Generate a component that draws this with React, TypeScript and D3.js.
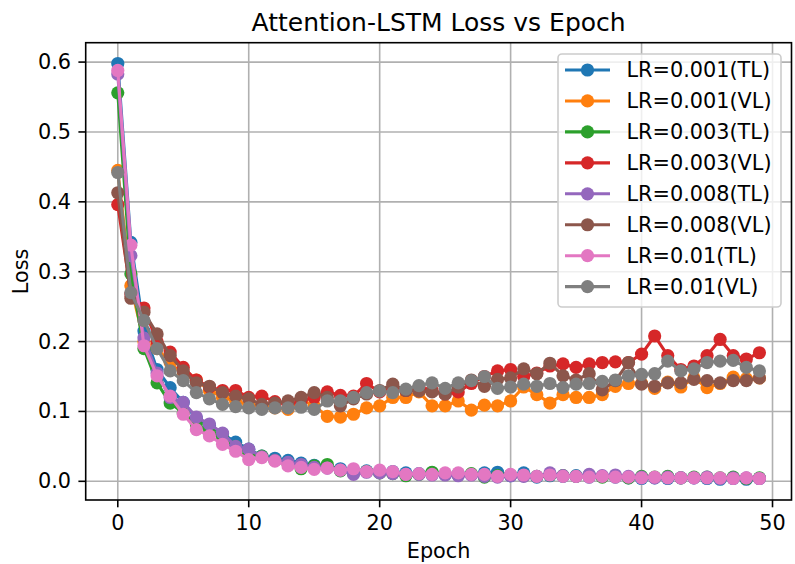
import React from "react";
import * as d3 from "d3";

const epochs = d3.range(0, 50);

const blueTL = [0.598,0.342,0.215,0.160,0.134,0.113,0.090,0.080,0.068,0.056,0.046,0.036,0.033,0.030,0.026,0.023,0.020,0.018,0.016,0.015,0.014,0.014,0.012,0.011,0.012,0.010,0.011,0.010,0.012,0.013,0.008,0.012,0.006,0.008,0.007,0.008,0.006,0.007,0.006,0.005,0.004,0.005,0.004,0.005,0.005,0.004,0.003,0.004,0.003,0.004];
const orangeVL = [0.445,0.280,0.200,0.190,0.170,0.152,0.145,0.130,0.120,0.115,0.110,0.108,0.105,0.103,0.117,0.108,0.093,0.092,0.096,0.105,0.108,0.120,0.120,0.128,0.108,0.108,0.115,0.102,0.109,0.108,0.115,0.135,0.124,0.112,0.124,0.120,0.120,0.124,0.136,0.140,0.140,0.133,0.142,0.135,0.148,0.134,0.140,0.149,0.147,0.148];
const greenTL = [0.556,0.297,0.190,0.141,0.112,0.098,0.082,0.070,0.062,0.050,0.040,0.036,0.030,0.025,0.018,0.022,0.024,0.015,0.012,0.014,0.012,0.011,0.008,0.010,0.013,0.010,0.009,0.011,0.006,0.008,0.009,0.008,0.007,0.009,0.008,0.007,0.009,0.006,0.007,0.005,0.007,0.006,0.007,0.005,0.006,0.006,0.005,0.006,0.004,0.005];
const redVL = [0.396,0.268,0.248,0.200,0.185,0.163,0.145,0.135,0.130,0.130,0.120,0.122,0.114,0.110,0.115,0.120,0.128,0.123,0.122,0.140,0.128,0.133,0.130,0.135,0.130,0.125,0.128,0.140,0.150,0.158,0.160,0.150,0.155,0.165,0.168,0.163,0.168,0.170,0.171,0.170,0.182,0.208,0.180,0.160,0.165,0.180,0.203,0.180,0.175,0.184];
const purpleTL = [0.583,0.323,0.205,0.155,0.120,0.113,0.092,0.082,0.069,0.050,0.046,0.035,0.030,0.027,0.024,0.020,0.019,0.016,0.010,0.013,0.012,0.011,0.010,0.010,0.009,0.009,0.008,0.009,0.007,0.006,0.008,0.007,0.007,0.012,0.008,0.007,0.010,0.008,0.009,0.007,0.006,0.005,0.006,0.005,0.005,0.006,0.004,0.005,0.005,0.004];
const brownVL = [0.413,0.262,0.242,0.211,0.180,0.158,0.141,0.136,0.127,0.122,0.118,0.110,0.112,0.115,0.120,0.127,0.120,0.108,0.118,0.125,0.130,0.139,0.130,0.129,0.128,0.125,0.135,0.145,0.136,0.146,0.148,0.161,0.154,0.169,0.151,0.145,0.154,0.131,0.144,0.170,0.139,0.136,0.141,0.141,0.146,0.144,0.141,0.144,0.144,0.148];
const pinkTL = [0.588,0.338,0.194,0.151,0.122,0.096,0.074,0.065,0.053,0.043,0.031,0.034,0.029,0.022,0.020,0.017,0.019,0.016,0.018,0.014,0.016,0.014,0.010,0.011,0.010,0.012,0.012,0.010,0.010,0.007,0.010,0.009,0.007,0.009,0.007,0.007,0.006,0.007,0.006,0.006,0.005,0.006,0.005,0.005,0.005,0.005,0.005,0.004,0.005,0.004];
const grayVL = [0.442,0.270,0.230,0.190,0.158,0.144,0.127,0.118,0.110,0.107,0.105,0.103,0.105,0.105,0.106,0.103,0.115,0.115,0.120,0.127,0.129,0.127,0.132,0.137,0.141,0.133,0.141,0.144,0.150,0.133,0.135,0.139,0.136,0.140,0.134,0.139,0.140,0.143,0.145,0.151,0.153,0.154,0.172,0.158,0.161,0.170,0.172,0.173,0.163,0.158];

const seriesNames = ["LR=0.001(TL)","LR=0.001(VL)","LR=0.003(TL)","LR=0.003(VL)","LR=0.008(TL)","LR=0.008(VL)","LR=0.01(TL)","LR=0.01(VL)"];
const seriesValues = [blueTL, orangeVL, greenTL, redVL, purpleTL, brownVL, pinkTL, grayVL];
const colors = ["#1f77b4","#ff7f0e","#2ca02c","#d62728","#9467bd","#8c564b","#e377c2","#7f7f7f"];

const xTicks = [0, 10, 20, 30, 40, 50];
const yTicks = [0.0, 0.1, 0.2, 0.3, 0.4, 0.5, 0.6];

const W = 795, H = 564;
const L = 85.7, R = 791.5, T = 42.7, B = 500;
const FONT = "DejaVu Sans, sans-serif";
const FS = 20.8;
const TICK = 7.3;

export default function App() {
  const all = seriesValues.flat();
  const ymin = d3.min(all)!, ymax = d3.max(all)!;
  const ypad = (ymax - ymin) * 0.05;
  const x = d3.scaleLinear().domain([-2.45, 51.45]).range([L, R]);
  const y = d3.scaleLinear().domain([ymin - ypad, ymax + ypad]).range([B, T]);
  const line = d3.line<number>().x((_, i) => x(epochs[i])).y(d => y(d));

  const legX = 558, legY = 54, legW = 223, legH = 253;
  const rowY = (i: number) => 70 + i * 30.95;

  return (
    <svg width={W} height={H} style={{ position: "absolute", left: 0, top: 0, background: "#fff" }} fontFamily={FONT}>
      <rect x={0} y={0} width={W} height={H} fill="#fff" />
      {xTicks.map(t => x(t) <= R && (
        <line key={"gx" + t} x1={x(t)} x2={x(t)} y1={T} y2={B} stroke="#b0b0b0" strokeWidth={1.6} />
      ))}
      {yTicks.map(t => (
        <line key={"gy" + t} x1={L} x2={R} y1={y(t)} y2={y(t)} stroke="#b0b0b0" strokeWidth={1.6} />
      ))}
      <defs>
        <clipPath id="clip"><rect x={L} y={T} width={R - L} height={B - T} /></clipPath>
      </defs>
      <g clipPath="url(#clip)">
        {seriesValues.map((vals, si) => (
          <g key={si}>
            <path d={line(vals) || ""} fill="none" stroke={colors[si]} strokeWidth={3.1} strokeLinejoin="round" strokeLinecap="butt" />
            {vals.map((v, i) => (
              <circle key={i} cx={x(epochs[i])} cy={y(v)} r={6.6} fill={colors[si]} />
            ))}
          </g>
        ))}
      </g>
      <rect x={L} y={T} width={R - L} height={B - T} fill="none" stroke="#000" strokeWidth={1.6} />
      {xTicks.map(t => (
        <g key={"xt" + t}>
          <line x1={x(t)} x2={x(t)} y1={B} y2={B + TICK} stroke="#000" strokeWidth={1.6} />
          <text x={x(t)} y={B + 14.5} fontSize={FS} textAnchor="middle" dominantBaseline="hanging" fill="#000">{t}</text>
        </g>
      ))}
      {yTicks.map(t => (
        <g key={"yt" + t}>
          <line x1={L - TICK} x2={L} y1={y(t)} y2={y(t)} stroke="#000" strokeWidth={1.6} />
          <text x={L - 14.6} y={y(t)} fontSize={FS} textAnchor="end" dominantBaseline="central" fill="#000">{t.toFixed(1)}</text>
        </g>
      ))}
      <text x={(L + R) / 2} y={558} fontSize={FS} textAnchor="middle" fill="#000">Epoch</text>
      <text transform={`translate(28, ${(T + B) / 2}) rotate(-90)`} fontSize={FS} textAnchor="middle" fill="#000">Loss</text>
      <text x={(L + R) / 2} y={31} fontSize={25} textAnchor="middle" fill="#000">Attention-LSTM Loss vs Epoch</text>
      <rect x={legX} y={legY} width={legW} height={legH} rx={4} fill="#fff" fillOpacity={0.8} stroke="#cccccc" strokeWidth={1.6} />
      {seriesNames.map((name, i) => (
        <g key={name}>
          <line x1={565} x2={610} y1={rowY(i)} y2={rowY(i)} stroke={colors[i]} strokeWidth={3.1} />
          <circle cx={587.5} cy={rowY(i)} r={6.6} fill={colors[i]} />
          <text x={626.5} y={rowY(i)} fontSize={FS} dominantBaseline="central" fill="#000">{name}</text>
        </g>
      ))}
    </svg>
  );
}
